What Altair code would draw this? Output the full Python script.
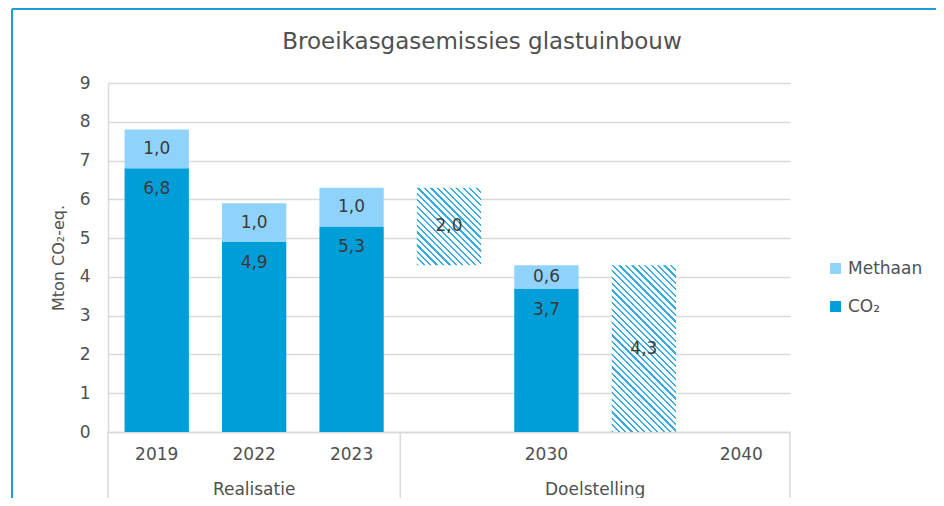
import altair as alt
import pandas as pd

# ---- data ----
slots = ["2019", "2022", "2023", "g1", "2030", "g2", "2040"]
bar_slots = ["2019", "2022", "2023", "2030"]
co2 = [6.8, 4.9, 5.3, 3.7]
methaan = [1.0, 1.0, 1.0, 0.6]
co2_labels = ["6,8", "4,9", "5,3", "3,7"]
methaan_labels = ["1,0", "1,0", "1,0", "0,6"]
hatch_slots = ["g1", "g2"]
hatch_low = [4.3, 0.0]
hatch_high = [6.3, 4.3]
hatch_labels = ["2,0", "4,3"]
series_names = ["Methaan", "CO₂"]
group_names = ["Realisatie", "Doelstelling"]
y_ticks = [0, 1, 2, 3, 4, 5, 6, 7, 8, 9]

# ---- layout / style ----
W, H = 682, 349
PAD = {"left": 100, "top": 75, "right": 146, "bottom": 66}
YMAX = 9
BAND = 0.66
C_CO2 = "#009ED9"
C_CH4 = "#90D3FA"
C_HATCH = "#3AAAE2"
GRAY = "#505050"
DARK = "#3a3a3a"
FONT = "DejaVu Sans"
FS = 17

rows = []
for s, c, m, cl, ml in zip(bar_slots, co2, methaan, co2_labels, methaan_labels):
    rows.append({"slot": s, "series": "CO₂", "y0": 0.0, "y1": c, "label": cl,
                 "ymid": c})
    rows.append({"slot": s, "series": "Methaan", "y0": c, "y1": c + m, "label": ml,
                 "ymid": c + m / 2})
bars = pd.DataFrame(rows)
hatch = pd.DataFrame({"slot": hatch_slots, "y0": hatch_low, "y1": hatch_high,
                      "label": hatch_labels})
hatch["ymid"] = (hatch["y0"] + hatch["y1"]) / 2

x_scale = alt.Scale(domain=slots, paddingInner=0, paddingOuter=0)
y_scale = alt.Scale(domain=[0, YMAX], nice=False)

AXIS_X = alt.Axis(labelExpr="datum.value[0] == 'g' ? '' : datum.value",
                  labelAngle=0, ticks=False, labelPadding=14, title=None,
                  labelFontSize=FS, labelColor=GRAY, domainColor="#d9d9d9",
                  domainWidth=1.5, grid=False)
AXIS_Y = alt.Axis(values=y_ticks, ticks=False, labelOverlap=False,
                  title="Mton CO₂-eq.",
                  labelPadding=18, labelFontSize=FS, labelColor=GRAY,
                  titleFontSize=16, titleColor=GRAY, titleFontWeight="normal",
                  titlePadding=13, domainColor="#d9d9d9", domainWidth=1.5,
                  gridColor="#d9d9d9", gridWidth=1.5)


def X(band=0.5):
    return alt.X("slot:N", scale=x_scale, sort=slots, axis=AXIS_X, bandPosition=band)


def Y(field):
    return alt.Y(field, scale=y_scale, axis=AXIS_Y)


def hatch_gradient(h_units, period=4.6, duty=0.34):
    w = BAND * W / len(slots)
    h = h_units / YMAX * H
    a = w / h
    s = (a + 1) / (a * a + 1)
    n = max(1, round((w + h) / 2 ** 0.5 / period))
    stops = []
    for i in range(n):
        o0 = i / n
        o1 = (i + duty) / n
        o2 = (i + 1) / n
        stops += [alt.GradientStop(color=C_HATCH, offset=o0),
                  alt.GradientStop(color=C_HATCH, offset=o1),
                  alt.GradientStop(color="#ffffff", offset=o1),
                  alt.GradientStop(color="#ffffff", offset=min(o2, 1.0))]
    return alt.Gradient(gradient="linear", x1=0, y1=1, x2=s * a, y2=1 - s,
                        stops=stops)


stack = alt.Chart(bars).mark_bar(width=alt.RelativeBandSize(BAND)).encode(
    x=X(),
    y=Y("y0:Q"),
    y2="y1:Q",
    color=alt.Color("series:N",
                    scale=alt.Scale(domain=series_names, range=[C_CH4, C_CO2]),
                    legend=alt.Legend(title=None, orient="none", legendX=719,
                                      legendY=177, symbolType="square",
                                      symbolSize=120, labelFontSize=FS,
                                      labelColor=GRAY, labelFont=FONT,
                                      rowPadding=20, symbolStrokeWidth=0)),
)

co2_text = alt.Chart(bars[bars["series"] == "CO₂"]).mark_text(
    dy=21, fontSize=FS, color=DARK, font=FONT).encode(
    x=X(), y=Y("ymid:Q"), text="label:N")

ch4_text = alt.Chart(bars[bars["series"] == "Methaan"]).mark_text(
    fontSize=FS, color=DARK, font=FONT).encode(
    x=X(), y=Y("ymid:Q"), text="label:N")

hatch_layers = []
for i in range(len(hatch_slots)):
    sub = hatch.iloc[[i]]
    hatch_layers.append(
        alt.Chart(sub).mark_bar(width=alt.RelativeBandSize(BAND),
                                color=hatch_gradient(hatch_high[i] - hatch_low[i])
                                ).encode(x=X(), y=Y("y0:Q"), y2="y1:Q"))

hatch_text = alt.Chart(hatch).mark_text(
    fontSize=FS, color=DARK, font=FONT).encode(
    x=X(), y=Y("ymid:Q"), text="label:N")

# group labels and separators of the two-level category axis
grp1 = alt.Chart(pd.DataFrame({"slot": ["2022"], "g": [group_names[0]]})).mark_text(
    fontSize=FS, color=GRAY, font=FONT, baseline="middle").encode(
    x=X(0.5), y=alt.value(H + 58), text="g:N")
grp2 = alt.Chart(pd.DataFrame({"slot": ["g2"], "g": [group_names[1]]})).mark_text(
    fontSize=FS, color=GRAY, font=FONT, baseline="middle").encode(
    x=X(0), y=alt.value(H + 58), text="g:N")
sep_left = alt.Chart(pd.DataFrame({"slot": ["2019", "g1"]})).mark_rule(
    color="#d9d9d9", strokeWidth=1.5).encode(
    x=X(0), y=alt.value(H), y2=alt.value(H + 71))
sep_right = alt.Chart(pd.DataFrame({"slot": ["2040"]})).mark_rule(
    color="#d9d9d9", strokeWidth=1.5).encode(
    x=X(1), y=alt.value(H), y2=alt.value(H + 71))

# outer frame (top and left edges of the embedded chart)
frame_top = alt.Chart(pd.DataFrame({"k": [0]})).mark_rule(
    color="#1E9CD7", strokeWidth=2).encode(
    x=alt.value(-96), x2=alt.value(W + PAD["right"]), y=alt.value(-74))
frame_left = alt.Chart(pd.DataFrame({"k": [0]})).mark_rule(
    color="#1E9CD7", strokeWidth=2).encode(
    x=alt.value(-96), y=alt.value(-74), y2=alt.value(H + PAD["bottom"]))

chart = alt.layer(
    stack, *hatch_layers, co2_text, ch4_text, hatch_text,
    grp1, grp2, sep_left, sep_right, frame_top, frame_left
).properties(
    width=W, height=H,
    padding=PAD,
    autosize=alt.AutoSizeParams(type="none"),
    title=alt.TitleParams("Broeikasgasemissies glastuinbouw", anchor="middle",
                          dx=33, offset=-46, fontSize=23, font=FONT,
                          fontWeight="normal", color=GRAY),
).configure_view(stroke=None).configure_axis(
    labelFont=FONT, titleFont=FONT
).configure_text(font=FONT)

chart.save("out.html", embed_options={"renderer": "svg", "actions": False})
